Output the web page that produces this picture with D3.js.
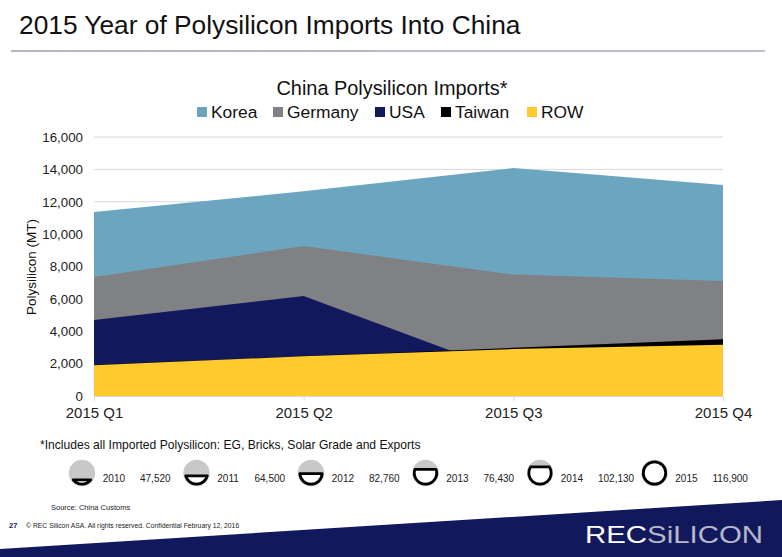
<!DOCTYPE html>
<html><head><meta charset="utf-8">
<script src="https://d3js.org/d3.v7.min.js"></script>
<style>html,body{margin:0;padding:0;background:#fff;overflow:hidden}svg{display:block}text{font-family:"Liberation Sans",Arial,sans-serif}</style>
</head><body><svg id="c" width="782" height="557"></svg>
<script>
const categories=["2015 Q1","2015 Q2","2015 Q3","2015 Q4"];
const yTicks=[0,2000,4000,6000,8000,10000,12000,14000,16000];
const row=[1900,2450,2900,3170];
const taiwan=[10,10,80,330];
const usa=[2780,3710,-1616,0];
const germany=[2660,3090,6136,3600];
const korea=[4010,3390,6580,5930];
const seriesNames=["ROW","Taiwan","USA","Germany","Korea"];
const seriesValues=[row,taiwan,usa,germany,korea];
const seriesColors=["#ffca2e","#000000","#12185c","#808184","#6ba5bf"];
const legendOrder=["Korea","Germany","USA","Taiwan","ROW"];
const legendX=[197,273,375,441,527];
const yearLabels=["2010","2011","2012","2013","2014","2015"];
const yearTotals=["47,520","64,500","82,760","76,430","102,130","116,900"];
const yearFill=[0.19,0.37,0.47,0.66,0.77,1];

const svg=d3.select("#c");
const x=d3.scalePoint().domain(categories).range([94,723]);
const y=d3.scaleLinear().domain([0,16000]).range([396,137]);

// title
svg.append("text").attr("x",19).attr("y",34).attr("font-size",26.3).attr("fill","#111").text("2015 Year of Polysilicon Imports Into China");
svg.append("line").attr("x1",375).attr("x2",765).attr("y1",51).attr("y2",51).attr("stroke","#aaaabb").attr("stroke-width",1.4);
svg.append("line").attr("x1",11).attr("x2",375).attr("y1",51).attr("y2",51).attr("stroke","#70728c").attr("stroke-width",1.2);

// chart title & legend
svg.append("text").attr("x",392).attr("y",95).attr("text-anchor","middle").attr("font-size",19.9).attr("fill","#111").text("China Polysilicon Imports*");
legendOrder.forEach((n,i)=>{
  const c=seriesColors[seriesNames.indexOf(n)];
  svg.append("rect").attr("x",legendX[i]).attr("y",107).attr("width",10).attr("height",10).attr("fill",c);
  svg.append("text").attr("x",legendX[i]+14).attr("y",118).attr("font-size",17.4).attr("fill","#111").text(n);
});

// gridlines
svg.append("g").selectAll("line").data(yTicks).join("line")
  .attr("x1",94).attr("x2",723).attr("y1",d=>y(d)).attr("y2",d=>y(d)).attr("stroke","#d9d9d9").attr("stroke-width",1);

// cumulative areas painted back to front
const cum=categories.map(()=>0);
const tops=seriesValues.map(v=>v.map((d,i)=>(cum[i]+=d)));
const area=d3.area().x((d,i)=>x(categories[i])).y0(y(0)).y1(d=>y(d));
for(let s=tops.length-1;s>=0;s--){
  svg.append("path").attr("d",area(tops[s])).attr("fill",seriesColors[s]);
}

// axes
const yAxis=d3.axisLeft(y).tickValues(yTicks).tickSize(0).tickPadding(11).tickFormat(d3.format(","));
const gy=svg.append("g").attr("transform","translate(94,0)").call(yAxis);
gy.select(".domain").remove();
gy.selectAll("text").attr("font-size",13.3).attr("fill","#222");
const xAxis=d3.axisBottom(x).tickSize(5).tickPadding(6);
const gx=svg.append("g").attr("transform","translate(0,396)").call(xAxis);
gx.select(".domain").attr("stroke","#d9d9d9");
gx.selectAll("line").attr("stroke","#d9d9d9");
gx.selectAll("text").attr("font-size",15).attr("fill","#222");
svg.append("text").attr("transform","translate(36,267) rotate(-90)").attr("text-anchor","middle").attr("font-size",13.5).attr("fill","#111").text("Polysilicon (MT)");

// note
svg.append("text").attr("x",40).attr("y",449).attr("font-size",12.1).attr("fill","#111").text("*Includes all Imported Polysilicon: EG, Bricks, Solar Grade and Exports");

// year gauges
const cx=[82,196.5,311,425.5,540,654.5];
const cyG=473,R=12.5;
yearLabels.forEach((lab,i)=>{
  const g=svg.append("g");
  g.append("circle").attr("cx",cx[i]).attr("cy",cyG).attr("r",R+0.7).attr("fill","#c8c8c8");
  const f=yearFill[i], r=R-1.3;
  if(f>=1){
    g.append("circle").attr("cx",cx[i]).attr("cy",cyG).attr("r",r).attr("fill","#fff").attr("stroke","#000").attr("stroke-width",2.8);
  }else{
    const yy=r*(1-2*f), hw=Math.sqrt(r*r-yy*yy);
    const large=f>0.5?1:0;
    g.append("path").attr("d",`M${cx[i]-hw},${cyG+yy}A${r},${r} 0 ${large} 0 ${cx[i]+hw},${cyG+yy}Z`)
      .attr("fill","#fff").attr("stroke","#000").attr("stroke-width",2.8).attr("stroke-linejoin","round");
  }
  g.append("text").attr("x",cx[i]+20.8).attr("y",cyG+9).attr("font-size",10).attr("fill","#222").text(lab);
  g.append("text").attr("x",cx[i]+58).attr("y",cyG+9).attr("font-size",10).attr("fill","#222").text(yearTotals[i]);
});

// footer
svg.append("text").attr("x",51).attr("y",510).attr("font-size",7.5).attr("fill","#222").text("Source: China Customs");
svg.append("text").attr("x",9).attr("y",528).attr("font-size",7.5).attr("font-weight","bold").attr("fill","#12185c").text("27");
svg.append("text").attr("x",26).attr("y",528).attr("font-size",6.8).attr("fill","#222").text("© REC Silicon ASA. All rights reserved. Confidential  February 12, 2016");
svg.append("path").attr("d","M0,549L782,500L782,557L0,557Z").attr("fill","#12185c");
const logo=svg.append("text").attr("x",585).attr("y",543).attr("font-size",24).attr("textLength",178).attr("lengthAdjust","spacingAndGlyphs");
logo.append("tspan").attr("fill","#fff").text("REC");
logo.append("tspan").attr("fill","#b4b8c8").text("SiLICON");
</script></body></html>
